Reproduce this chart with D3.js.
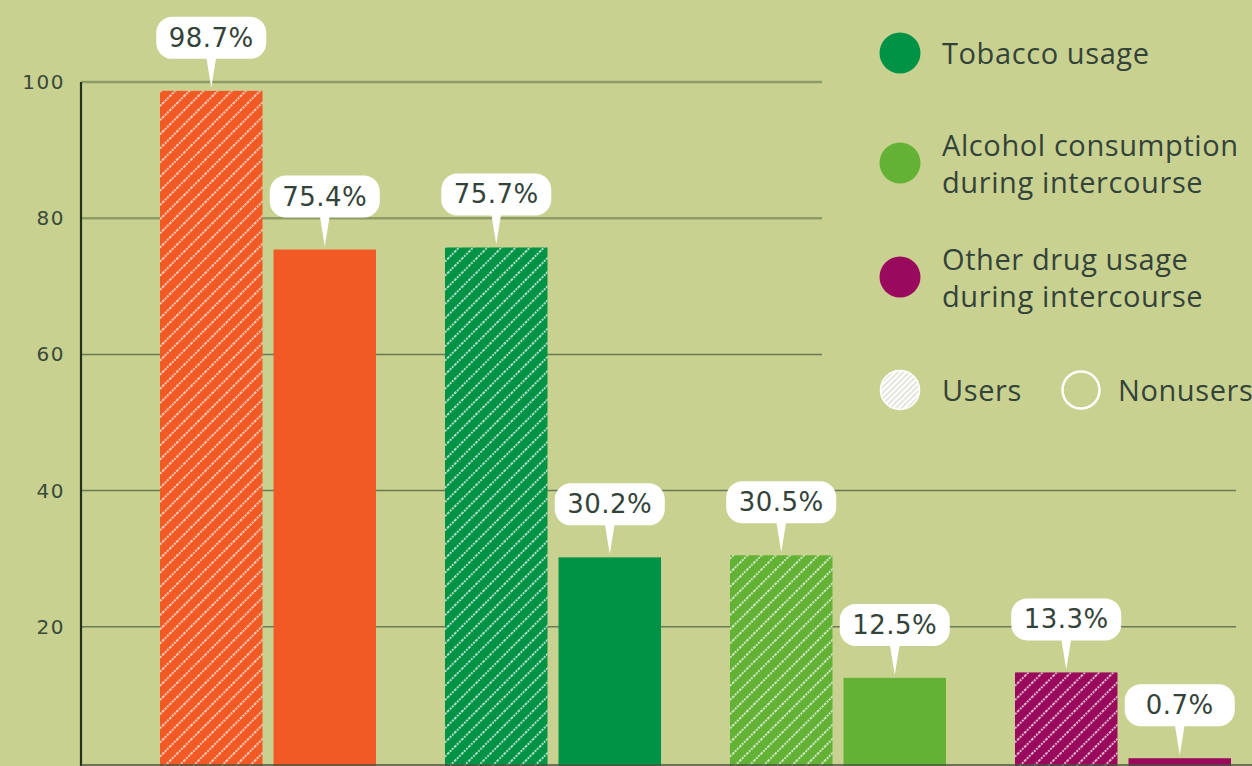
<!DOCTYPE html>
<html>
<head>
<meta charset="utf-8">
<script src="https://cdn.jsdelivr.net/npm/d3@7"></script>
<style>
  body { margin: 0; background: #c9d190; }
  svg { display: block; font-family: "Open Sans", "Noto Sans", sans-serif; }
</style>
</head>
<body>
<div id="chart"></div>
<script>
// data
var groups = ["Overall", "Tobacco usage", "Alcohol consumption", "Other drug usage"];
var kinds = ["users", "nonusers"];
var users = [98.7, 75.7, 30.5, 13.3];
var nonusers = [75.4, 30.2, 12.5, 0.7];
var groupColors = ["#f15a24", "#009245", "#63b236", "#990a5c"];
var yTicks = [20, 40, 60, 80, 100];
var legendLabels = [["Tobacco usage"], ["Alcohol consumption", "during intercourse"], ["Other drug usage", "during intercourse"]];
var legendColors = ["#009245", "#63b236", "#990a5c"];

var width = 1252, height = 766;

var svg = d3.select("#chart").append("svg")
    .attr("width", width)
    .attr("height", height);

svg.append("rect").attr("width", width).attr("height", height).attr("fill", "#c9d190");

var defs = svg.append("defs");
// diagonal hatch for "users" bars
var hatch = defs.append("pattern")
    .attr("id", "hatch")
    .attr("patternUnits", "userSpaceOnUse")
    .attr("width", 10).attr("height", 10)
    .attr("patternTransform", "rotate(45)");
hatch.append("line")
    .attr("x1", 5).attr("y1", 0).attr("x2", 5).attr("y2", 10)
    .attr("stroke", "#fff").attr("stroke-width", 1.7)
    .attr("stroke-opacity", 0.8)
    .attr("stroke-dasharray", "2 1");

var fineHatch = defs.append("pattern")
    .attr("id", "fineHatch")
    .attr("patternUnits", "userSpaceOnUse")
    .attr("width", 4).attr("height", 4)
    .attr("patternTransform", "rotate(45)");
fineHatch.append("rect").attr("width", 4).attr("height", 4).attr("fill", "#fff");
fineHatch.append("line")
    .attr("x1", 2).attr("y1", 0).attr("x2", 2).attr("y2", 4)
    .attr("stroke", "#c9cdbb").attr("stroke-width", 1);

// scales
var y = d3.scaleLinear().domain([0, 100]).range([763, 82]);
var x0 = d3.scaleBand().domain(groups).range([160, 1231]).paddingInner(0.242).paddingOuter(0);
var x1 = d3.scaleBand().domain(kinds).range([0, x0.bandwidth()]).paddingInner(0.097);

// gridlines
svg.append("g").selectAll("line")
    .data(yTicks)
    .enter().append("line")
    .attr("x1", 81)
    .attr("x2", function(d) { return d >= 60 ? 822 : 1236; })
    .attr("y1", function(d) { return y(d); })
    .attr("y2", function(d) { return y(d); })
    .attr("stroke", function(d) { return d >= 80 ? "#8d9c67" : "#6a7a55"; })
    .attr("stroke-width", function(d) { return d >= 80 ? 2.5 : 1.5; });

// y axis
var yAxis = d3.axisLeft(y).tickValues(yTicks).tickSize(0).tickPadding(16);
var ax = svg.append("g").attr("transform", "translate(81,0)").call(yAxis);
ax.select(".domain").remove();
ax.attr("font-family", null).attr("font-size", null);
ax.selectAll("text")
    .style("font-family", "'DejaVu Sans', sans-serif")
    .style("font-size", "20px")
    .style("letter-spacing", "1.5px")
    .attr("fill", "#3a4939");
svg.append("line")
    .attr("x1", 81).attr("x2", 81)
    .attr("y1", y(100)).attr("y2", height)
    .attr("stroke", "#25301f").attr("stroke-width", 2.2);

// bars
var rows = groups.map(function(g, i) {
    return [
        { group: g, kind: "users", value: users[i], color: groupColors[i] },
        { group: g, kind: "nonusers", value: nonusers[i], color: groupColors[i] }
    ];
});

var gGroups = svg.selectAll(".grp")
    .data(rows)
    .enter().append("g")
    .attr("class", "grp")
    .attr("transform", function(d) { return "translate(" + x0(d[0].group) + ",0)"; });

var cells = gGroups.selectAll(".cell")
    .data(function(d) { return d; })
    .enter().append("g")
    .attr("class", "cell");

cells.append("rect")
    .attr("x", function(d) { return x1(d.kind); })
    .attr("y", function(d) { return y(d.value); })
    .attr("width", x1.bandwidth())
    .attr("height", function(d) { return y(0) - y(d.value) + 4; })
    .attr("fill", function(d) { return d.color; });

cells.filter(function(d) { return d.kind === "users"; })
    .append("rect")
    .attr("x", function(d) { return x1(d.kind); })
    .attr("y", function(d) { return y(d.value); })
    .attr("width", x1.bandwidth())
    .attr("height", function(d) { return y(0) - y(d.value) + 4; })
    .attr("fill", "url(#hatch)");

// baseline
svg.append("line")
    .attr("x1", 81).attr("x2", width)
    .attr("y1", 765).attr("y2", 765)
    .attr("stroke", "#4a5540").attr("stroke-width", 1.5);

// callouts
var boxW = 110, boxH = 42;
var callout = cells.append("g")
    .attr("transform", function(d) {
        return "translate(" + (x1(d.kind) + x1.bandwidth() / 2) + "," + y(d.value) + ")";
    });

callout.append("path")
    .attr("d", "M-5,-34 L0,-3 L5,-34 Z")
    .attr("fill", "#fff");
callout.append("rect")
    .attr("x", -boxW / 2).attr("y", -32 - boxH)
    .attr("width", boxW).attr("height", boxH)
    .attr("rx", 16)
    .attr("fill", "#fff");
callout.append("text")
    .attr("text-anchor", "middle")
    .attr("y", -32 - boxH / 2 + 9)
    .style("font-family", "'DejaVu Sans', sans-serif")
    .style("font-size", "26px")
    .style("letter-spacing", "0.5px")
    .attr("fill", "#34433a")
    .text(function(d) { return d.value + "%"; });

// legend
var legend = svg.append("g");
var ly = [53, 163, 277];
var legendFont = 29;
legendLabels.forEach(function(lines, i) {
    legend.append("circle")
        .attr("cx", 900).attr("cy", ly[i]).attr("r", 20.5)
        .attr("fill", legendColors[i]);
    var t = legend.append("text")
        .attr("x", 942)
        .attr("y", lines.length === 1 ? ly[i] + 11 : ly[i] - 7)
        .attr("font-size", legendFont)
        .attr("letter-spacing", 0.6)
        .attr("fill", "#34433a");
    lines.forEach(function(l, j) {
        t.append("tspan").attr("x", 942).attr("dy", j === 0 ? 0 : 37).text(l);
    });
});

legend.append("circle")
    .attr("cx", 900).attr("cy", 390).attr("r", 19.5)
    .attr("fill", "url(#fineHatch)")
    .attr("stroke", "#fff").attr("stroke-width", 1.5);
legend.append("text")
    .attr("x", 942).attr("y", 401)
    .attr("font-size", legendFont).attr("letter-spacing", 0.6)
    .attr("fill", "#34433a")
    .text("Users");
legend.append("circle")
    .attr("cx", 1081).attr("cy", 390).attr("r", 18.5)
    .attr("fill", "none")
    .attr("stroke", "#fff").attr("stroke-width", 2.5);
legend.append("text")
    .attr("x", 1118).attr("y", 401)
    .attr("font-size", legendFont).attr("letter-spacing", 0.6)
    .attr("fill", "#34433a")
    .text("Nonusers");
</script>
</body>
</html>
